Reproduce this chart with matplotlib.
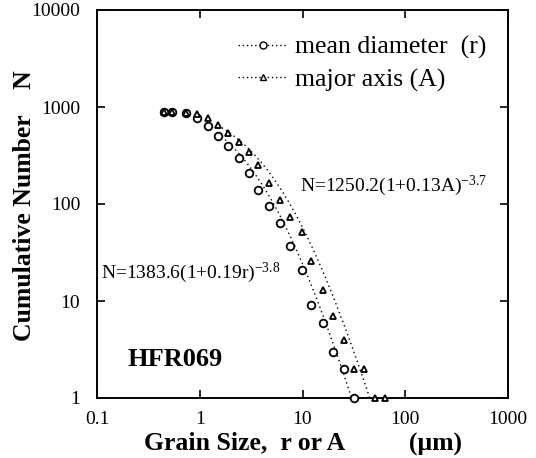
import numpy as np
import matplotlib
matplotlib.use("Agg")
import matplotlib.pyplot as plt
from matplotlib.lines import Line2D

plt.rcParams['font.family'] = ['Liberation Serif', 'DejaVu Serif']
plt.rcParams['mathtext.fontset'] = 'custom'
plt.rcParams['mathtext.rm'] = 'Liberation Serif'
plt.rcParams['mathtext.it'] = 'Liberation Serif:italic'
plt.rcParams['mathtext.bf'] = 'Liberation Serif:bold'

# --- data ---
r_size = [0.45, 0.54, 0.74, 0.95, 1.2, 1.5, 1.9, 2.4, 3.0, 3.7, 4.7, 6.0, 7.6, 9.8,
          12.2, 15.7, 19.6, 25.1, 31.5]
r_count = [895, 895, 861, 776, 642, 506, 396, 296, 210, 139, 96, 63, 37, 21,
           9, 6, 3, 2, 1]

a_size = [0.45, 0.54, 0.74, 0.95, 1.2, 1.5, 1.9, 2.4, 3.0, 3.7, 4.7, 6.0, 7.6, 9.8,
          12.2, 15.7, 19.6, 25.1, 31.5, 39.4, 50.4, 63.1]
a_count = [888, 888, 870, 847, 776, 652, 535, 439, 341, 252, 163, 110, 74, 52,
           25.8, 13, 7, 4, 2, 2, 1, 1]

# fit parameters shown on the chart: N = C (1 + k x)^p
r_fit = dict(C=1383.6, k=0.19, p=-3.8, xmin=1.5, xmax=40)
a_fit = dict(C=1250.2, k=0.13, p=-3.7, xmin=1.5, xmax=60)

x_ticks = [0.1, 1, 10, 100, 1000]
x_ticklabels = ['0.1', '1', '10', '100', '1000']
y_ticks = [1, 10, 100, 1000, 10000]
y_ticklabels = ['1', '10', '100', '1000', '10000']

fig = plt.figure(figsize=(5.36, 4.58), dpi=100)
ax = fig.add_axes([97/536, 60/458, 411/536, 388/458])
ax.set_xscale('log')
ax.set_yscale('log')
ax.set_xlim(0.1, 1000)
ax.set_ylim(1, 10000)

for fit in (r_fit, a_fit):
    xs = np.logspace(np.log10(fit['xmin']), np.log10(fit['xmax']), 200)
    ys = fit['C'] * (1 + fit['k'] * xs) ** fit['p']
    ax.plot(xs, ys, linestyle=(0, (1, 2.4)), color='black', linewidth=1.0)

ax.plot(r_size, r_count, linestyle='none', marker='o', markersize=5.5,
        markerfacecolor='white', markeredgecolor='black', markeredgewidth=1.3,
        clip_on=False, zorder=3)
ax.plot(a_size, a_count, linestyle='none', marker='^', markersize=4.2,
        markerfacecolor='white', markeredgecolor='black', markeredgewidth=1.3,
        clip_on=False, zorder=4)

ax.set_xticks(x_ticks)
ax.set_xticklabels(x_ticklabels)
ax.set_yticks(y_ticks)
ax.set_yticklabels(y_ticklabels)
ax.minorticks_off()
ax.tick_params(which='major', direction='in', length=6, width=1.2,
               top=True, right=True, labelsize=14)
ax.tick_params(axis='x', pad=9)
ax.tick_params(axis='y', pad=12)
for s in ax.spines.values():
    s.set_linewidth(1.4)

fig.text(303/536, 1 - 443/458, 'Grain Size,  r or A          (\u03bcm)', fontsize=18.5,
         fontweight='bold', ha='center', va='center')
fig.text(25/536, 1 - 206/458, 'Cumulative Number    N', fontsize=18.5,
         fontweight='bold', ha='center', va='center', rotation=90)

h1 = Line2D([], [], linestyle=(0, (1, 2)), color='black', linewidth=1.0, marker='o',
            markersize=5, markerfacecolor='white', markeredgecolor='black')
h2 = Line2D([], [], linestyle=(0, (1, 2)), color='black', linewidth=1.0, marker='^',
            markersize=4, markerfacecolor='white', markeredgecolor='black')
ax.legend([h1, h2], ['mean diameter  (r)', 'major axis (A)'], loc='upper right',
          bbox_to_anchor=((486 - 97) / 411, (398 - 36) / 388), frameon=False,
          fontsize=18.5, handlelength=1.9, handletextpad=0.3, labelspacing=0.35,
          borderpad=0, borderaxespad=0)

ax.text((300 - 97) / 411, (398 - 186) / 388, r'N=1250.2(1+0.13A)$^{-3.7}$',
        transform=ax.transAxes, fontsize=14, va='center', ha='left')
ax.text((101 - 97) / 411, (398 - 273) / 388, r'N=1383.6(1+0.19r)$^{-3.8}$',
        transform=ax.transAxes, fontsize=14, va='center', ha='left')
ax.text((127 - 97) / 411, (398 - 360) / 388, 'HFR069', transform=ax.transAxes,
        fontsize=19, fontweight='bold', va='center', ha='left')

fig.savefig('out.png', dpi=100)
